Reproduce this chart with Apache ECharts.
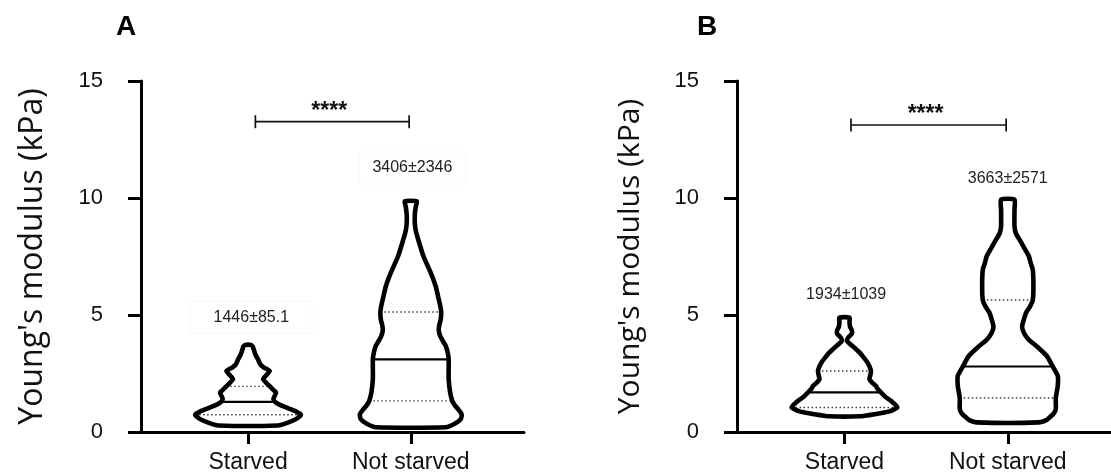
<!DOCTYPE html>
<html>
<head>
<meta charset="utf-8">
<script src="https://cdn.jsdelivr.net/npm/echarts@6/dist/echarts.min.js"></script>
<style>
  html, body { margin: 0; padding: 0; background: #ffffff; }
  #chart { width: 1111px; height: 474px; }
</style>
</head>
<body>
<div id="chart"></div>
<script>
// Groups on the category axis (placed at x = 1 and x = 2)
const categories = ['Starved', 'Not starved'];
const yTicks = [0, 5, 10, 15];
const panelLetters = ['A', 'B'];
const yAxisTitle = "Young's modulus (kPa)";

// Violin outlines: [Young's modulus (kPa), half-width in category units]
const outlineAStarved = [
  [0.28, 0.184], [0.40, 0.245], [0.55, 0.294], [0.74, 0.325], [0.90, 0.288],
  [1.05, 0.233], [1.18, 0.190], [1.29, 0.166], [1.41, 0.156], [1.55, 0.164],
  [1.69, 0.172], [1.80, 0.155], [1.95, 0.134], [2.10, 0.112], [2.26, 0.092],
  [2.40, 0.108], [2.61, 0.133], [2.75, 0.098], [2.90, 0.074], [3.11, 0.061],
  [3.30, 0.046], [3.50, 0.036], [3.65, 0.029], [3.72, 0.018]
];
const outlineANotStarved = [
  [0.20, 0.215], [0.35, 0.270], [0.55, 0.307], [0.75, 0.313], [0.95, 0.294],
  [1.15, 0.270], [1.33, 0.255], [1.69, 0.242], [2.26, 0.233], [2.70, 0.233],
  [3.10, 0.233], [3.40, 0.227], [3.68, 0.215], [3.90, 0.196], [4.10, 0.181],
  [4.35, 0.172], [4.55, 0.175], [4.80, 0.184], [5.13, 0.187], [5.40, 0.181],
  [5.67, 0.172], [6.23, 0.153], [6.80, 0.123], [7.51, 0.078], [8.22, 0.046],
  [8.60, 0.031], [8.93, 0.025], [9.30, 0.025], [9.64, 0.031], [9.86, 0.037]
];
const outlineBStarved = [
  [0.67, 0.092], [0.76, 0.184], [0.88, 0.275], [1.05, 0.324], [1.20, 0.306],
  [1.33, 0.285], [1.50, 0.251], [1.69, 0.223], [1.85, 0.202], [1.97, 0.193],
  [2.10, 0.171], [2.26, 0.153], [2.45, 0.159], [2.61, 0.162], [2.80, 0.153],
  [2.97, 0.141], [3.20, 0.116], [3.40, 0.092], [3.60, 0.061], [3.78, 0.031],
  [3.90, 0.015], [4.05, 0.024], [4.20, 0.045], [4.35, 0.045], [4.50, 0.034],
  [4.70, 0.031], [4.89, 0.031]
];
const outlineBNotStarved = [
  [0.41, 0.190], [0.52, 0.239], [0.63, 0.257], [0.80, 0.282], [0.98, 0.294],
  [1.45, 0.294], [1.97, 0.306], [2.40, 0.306], [2.80, 0.275], [3.25, 0.239],
  [3.68, 0.174], [3.90, 0.135], [4.10, 0.110], [4.35, 0.092], [4.53, 0.088],
  [4.80, 0.098], [5.10, 0.112], [5.35, 0.135], [5.64, 0.153], [6.23, 0.157],
  [6.94, 0.153], [7.20, 0.141], [7.51, 0.129], [7.90, 0.098], [8.22, 0.072],
  [8.50, 0.049], [8.80, 0.041], [9.50, 0.041], [9.93, 0.041]
];

// Quartiles per group: [Q1, median, Q3] in kPa
const quartilesA = [[0.74, 1.29, 1.95], [1.33, 3.10, 5.13]];
const quartilesB = [[1.05, 1.69, 2.61], [1.45, 2.80, 5.64]];

// Mean ± SD labels (Pa)
const meanSdA = ['1446\u00b185.1', '3406\u00b12346'];
const meanSdB = ['1934\u00b11039', '3663\u00b12571'];

// Significance between the two groups
const significance = ['****', '****'];

const FONT = '"Liberation Sans", Arial, sans-serif';
const X_MIN = 0.342;

function halfWidthAt(outline, v) {
  for (let i = 1; i < outline.length; i++) {
    const [v0, w0] = outline[i - 1];
    const [v1, w1] = outline[i];
    if (v >= v0 && v <= v1) {
      return w0 + (w1 - w0) * (v - v0) / (v1 - v0);
    }
  }
  return 0;
}

function violinSeries(panel, xPos, outline, quartiles) {
  return {
    type: 'custom',
    xAxisIndex: panel,
    yAxisIndex: panel,
    data: [[xPos]],
    silent: true,
    renderItem: function (params, api) {
      const right = outline.map(([v, hw]) => api.coord([xPos + hw, v]));
      const left = outline.slice().reverse().map(([v, hw]) => api.coord([xPos - hw, v]));
      const pts = right.concat(left);
      const children = [{
        type: 'polygon',
        shape: { points: pts, smooth: 0.2 },
        style: { fill: '#ffffff', stroke: null }
      }];
      quartiles.forEach((q, i) => {
        const hw = halfWidthAt(outline, q);
        const a = api.coord([xPos - hw, q]);
        const b = api.coord([xPos + hw, q]);
        children.push({
          type: 'line',
          shape: { x1: a[0], y1: a[1], x2: b[0], y2: b[1] },
          style: i === 1
            ? { stroke: '#000000', lineWidth: 2.2 }
            : { stroke: '#3a3a3a', lineWidth: 1.4, lineDash: [1.5, 2.5] }
        });
      });
      children.push({
        type: 'polygon',
        shape: { points: pts, smooth: 0.2 },
        style: { fill: null, stroke: '#000000', lineWidth: 4.6, lineJoin: 'round' }
      });
      return { type: 'group', children: children };
    }
  };
}

function sigSeries(panel, x1, x2, level, text) {
  return {
    type: 'custom',
    xAxisIndex: panel,
    yAxisIndex: panel,
    data: [[x1, x2, level]],
    silent: true,
    renderItem: function (params, api) {
      const a = api.coord([api.value(0), api.value(2)]);
      const b = api.coord([api.value(1), api.value(2)]);
      const cap = 6.5;
      const st = { stroke: '#111111', lineWidth: 1.7 };
      return {
        type: 'group',
        children: [
          { type: 'line', shape: { x1: a[0], y1: a[1], x2: b[0], y2: b[1] }, style: st },
          { type: 'line', shape: { x1: a[0], y1: a[1] - cap, x2: a[0], y2: a[1] + cap }, style: st },
          { type: 'line', shape: { x1: b[0], y1: b[1] - cap, x2: b[0], y2: b[1] + cap }, style: st },
          {
            type: 'text',
            x: (a[0] + b[0]) / 2 - 3, y: a[1] - 10,
            style: {
              text: text, fill: '#111111', font: 'bold 23px ' + FONT,
              align: 'center', verticalAlign: 'middle'
            }
          }
        ]
      };
    }
  };
}

function labelSeries(panel, items, boxed) {
  return {
    type: 'custom',
    xAxisIndex: panel,
    yAxisIndex: panel,
    data: items.map(it => [it.x, it.y]),
    silent: true,
    renderItem: function (params, api) {
      const it = items[params.dataIndex];
      const p = api.coord([api.value(0), api.value(1)]);
      const style = {
        text: it.text, fill: '#222222', font: '16px ' + FONT,
        align: 'center', verticalAlign: 'middle'
      };
      if (boxed) {
        style.padding = it.pad;
        style.borderColor = '#f8f8f8';
        style.borderWidth = 1;
      }
      return { type: 'text', x: p[0], y: p[1], style: style };
    }
  };
}

function xAxisFor(panel, max) {
  return {
    type: 'value',
    gridIndex: panel,
    min: X_MIN,
    max: max,
    axisLine: { show: true, lineStyle: { color: '#000000', width: 3 } },
    axisTick: { show: true, customValues: [1, 2], length: 12, lineStyle: { color: '#000000', width: 3 } },
    axisLabel: {
      show: true, customValues: [1, 2], margin: 19,
      formatter: v => categories[Math.round(v) - 1] || '',
      fontSize: 23, color: '#111111', fontFamily: FONT
    },
    splitLine: { show: false }
  };
}

function yAxisFor(panel, nameSize) {
  return {
    type: 'value',
    gridIndex: panel,
    min: yTicks[0],
    max: yTicks[yTicks.length - 1],
    interval: 5,
    name: yAxisTitle,
    nameLocation: 'middle',
    nameGap: 92,
    nameTextStyle: { fontSize: nameSize, color: '#111111', fontFamily: '"Open Sans", sans-serif' },
    axisLine: { show: true, lineStyle: { color: '#000000', width: 3 } },
    axisTick: { show: true, length: 13, lineStyle: { color: '#000000', width: 3 } },
    axisLabel: { show: true, margin: 38, fontSize: 22, color: '#111111', fontFamily: FONT },
    splitLine: { show: false }
  };
}

const chart = echarts.init(document.getElementById('chart'), null, { renderer: 'canvas' });

chart.setOption({
  backgroundColor: '#ffffff',
  animation: false,
  title: [
    { text: panelLetters[0], left: 116, top: 13, padding: 0,
      textStyle: { fontSize: 28, fontWeight: 'bold', color: '#000000', fontFamily: FONT } },
    { text: panelLetters[1], left: 697, top: 13, padding: 0,
      textStyle: { fontSize: 28, fontWeight: 'bold', color: '#000000', fontFamily: FONT } }
  ],
  grid: [
    { left: 141, top: 81, width: 383, height: 352 },
    { left: 737, top: 81, width: 374, height: 352 }
  ],
  xAxis: [xAxisFor(0, 2.696), xAxisFor(1, 2.632)],
  yAxis: [yAxisFor(0, 32), yAxisFor(1, 30)],
  series: [
    violinSeries(0, 1, outlineAStarved, quartilesA[0]),
    violinSeries(0, 2, outlineANotStarved, quartilesA[1]),
    violinSeries(1, 1, outlineBStarved, quartilesB[0]),
    violinSeries(1, 2, outlineBNotStarved, quartilesB[1]),
    sigSeries(0, 1.045, 1.99, 13.26, significance[0]),
    sigSeries(1, 1.04, 1.99, 13.12, significance[1]),
    labelSeries(0, [
      { x: 1.02, y: 4.89, text: meanSdA[0], pad: [8, 23] },
      { x: 2.01, y: 11.28, text: meanSdA[1], pad: [8, 13] }
    ], true),
    labelSeries(1, [
      { x: 1.01, y: 5.88, text: meanSdB[0] },
      { x: 2.0, y: 10.82, text: meanSdB[1] }
    ], false)
  ]
});
</script>
</body>
</html>
